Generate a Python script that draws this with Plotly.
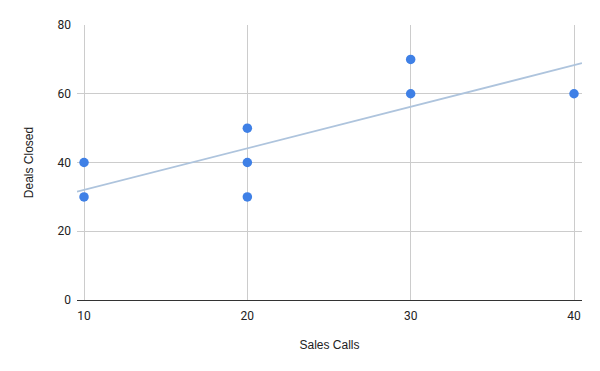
import plotly.graph_objects as go

sales_calls = [10, 10, 20, 20, 20, 30, 30, 40]
deals_closed = [40, 30, 50, 40, 30, 70, 60, 60]

# trendline (x at plot edges, y values)
trend_x = [9.57, 40.49]
trend_y = [31.5, 68.9]

x_ticks = [10, 20, 30, 40]
y_ticks = [0, 20, 40, 60, 80]

fig = go.Figure()
fig.add_trace(go.Scatter(
    x=trend_x, y=trend_y, mode="lines",
    line=dict(color="#aec4dd", width=1.8),
    hoverinfo="skip", showlegend=False,
))
fig.add_trace(go.Scatter(
    x=sales_calls, y=deals_closed, mode="markers",
    marker=dict(color="#3f80e6", size=9.5, line=dict(width=0)),
    showlegend=False,
))

fig.update_layout(
    width=600, height=371,
    margin=dict(l=77, r=18, t=25, b=71),
    paper_bgcolor="white", plot_bgcolor="white",
    font=dict(family="Roboto, Arial, sans-serif", size=12, color="#222222"),
    xaxis=dict(
        range=[trend_x[0], trend_x[1]],
        tickvals=x_ticks, ticktext=[str(v) for v in x_ticks],
        showgrid=True, gridcolor="#cccccc", gridwidth=1,
        zeroline=False,
        showline=True, linecolor="#333333", linewidth=1.3,
        ticks="", ticklabelstandoff=4,
        title=dict(text="Sales Calls", font=dict(family="Liberation Sans, Arial, sans-serif", size=12, color="#222222"), standoff=19),
        fixedrange=True,
    ),
    yaxis=dict(
        range=[0, 80],
        tickvals=y_ticks, ticktext=[str(v) for v in y_ticks],
        showgrid=True, gridcolor="#cccccc", gridwidth=1,
        zeroline=False, showline=False,
        ticks="", ticklabelstandoff=5,
        title=dict(text="Deals Closed", font=dict(family="Liberation Sans, Arial, sans-serif", size=12, color="#222222"), standoff=21),
        fixedrange=True,
    ),
)

fig.write_html("out.html")
